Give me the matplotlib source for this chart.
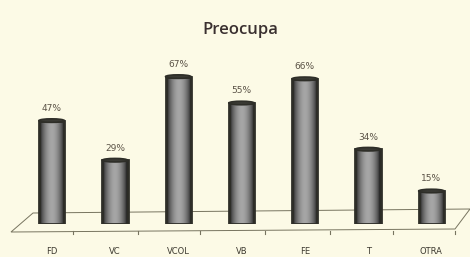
import numpy as np
import matplotlib.pyplot as plt
from matplotlib.patches import Polygon, Ellipse

# data
categories = ["FD", "VC", "VCOL", "VB", "FE", "T", "OTRA"]
values = [47, 29, 67, 55, 66, 34, 15]

bg = "#fcfae6"
fig = plt.figure(figsize=(4.7, 2.57), dpi=100, facecolor=bg)

# axes placed in pixel terms: x from 20px to 463px, y 0% at 224px, 75% at 59px
W, H = 470., 257.
ax = fig.add_axes([20/W, (H-224)/H, 443/W, 165/H])
ax.set_facecolor("none")
for s in ax.spines.values():
    s.set_visible(False)
ax.set_xticks([])
ax.set_yticks([])

# floor of the fake 3d plot (axes fraction)
fx = lambda px: (px - 20) / 443.
fy = lambda py: (224 - py) / 165.
floor = Polygon([(fx(11), fy(232)), (fx(455), fy(229)), (fx(470), fy(209)), (fx(33), fy(213))],
                closed=True, facecolor="none", edgecolor="#77745f", lw=0.7,
                transform=ax.transAxes, clip_on=False, zorder=1)
ax.add_patch(floor)
for px in [73, 138, 200, 265, 330, 393, 455]:
    ax.plot([fx(px), fx(px)], [fy(231), fy(234)], color="#77745f", lw=0.8,
            transform=ax.transAxes, clip_on=False)

bw = 0.40
shade = np.abs(np.linspace(-1, 1, 64)) ** 2
shade = np.vstack([shade, shade])
xs = np.arange(len(values)) + 0.5
for x, v in zip(xs, values):
    ax.imshow(shade, extent=(x - bw/2, x + bw/2, 0, v), aspect="auto",
              cmap="Greys", vmin=-0.9, vmax=1.1, zorder=2)
    ax.bar(x, v, width=bw, facecolor="none", edgecolor="#2e2e28", lw=2.0, zorder=3)
    ax.add_patch(Ellipse((x, v), bw, 1.6, facecolor="#3a3a34", edgecolor="#2e2e28",
                         lw=1.2, zorder=4))
    ax.text(x, v + 5.5, "%d%%" % v, ha="center", va="center", fontsize=6.5,
            color="#5a5246", zorder=5)

ax.set_xlim(0, 7)
ax.set_ylim(0, 75)

for x, c in zip(xs, categories):
    ax.text(x, fy(252), c, transform=ax.get_xaxis_transform(), ha="center", va="center",
            fontsize=6, color="#3d3a30")

fig.text(240/W, 1 - 30/H, "Preocupa", ha="center", va="center", fontsize=12,
         color="#3a3030", family="Open Sans", fontweight="semibold")

fig.savefig("out.png", dpi=100, facecolor=bg)
